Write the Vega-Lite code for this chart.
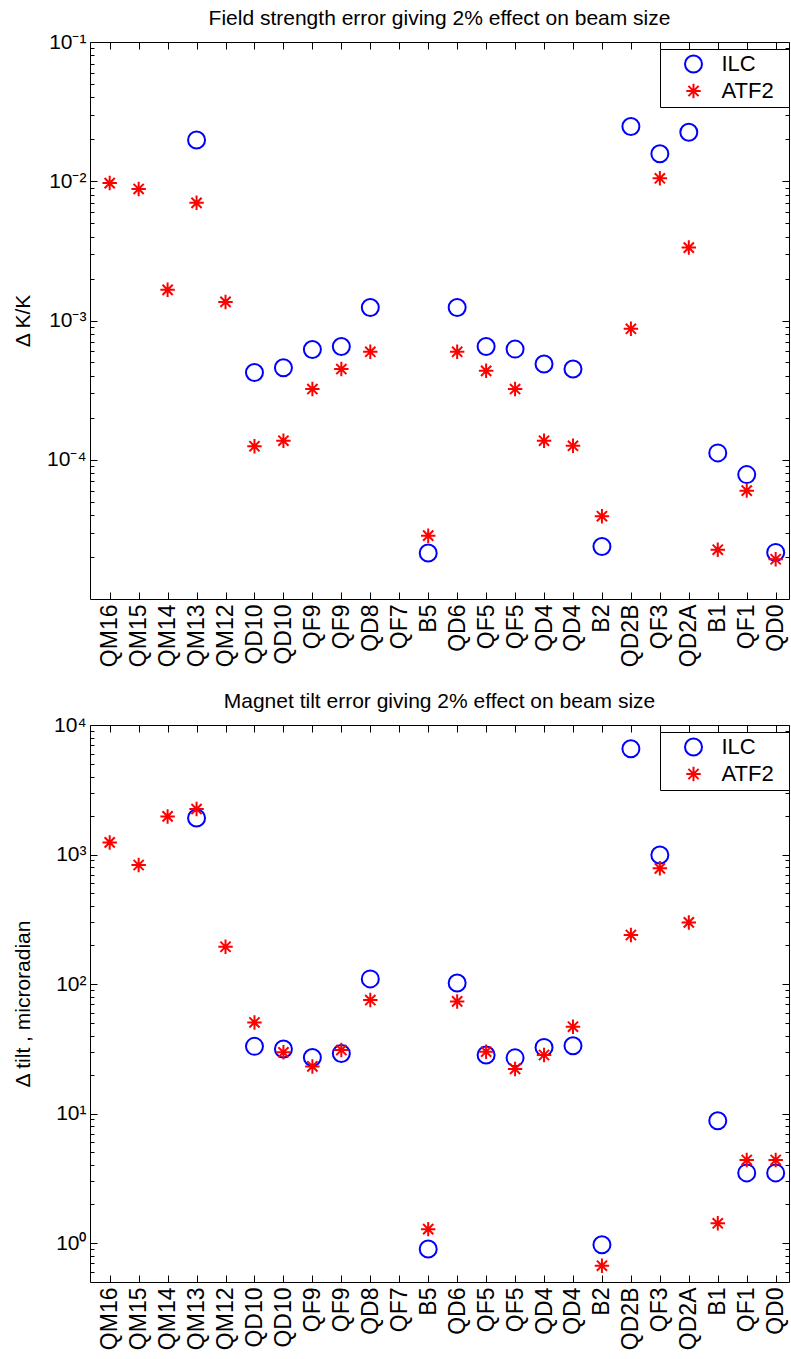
{
  "$schema": "https://vega.github.io/schema/vega-lite/v6.json",
  "padding": {"left": 12, "top": 7, "right": 0, "bottom": 0},
  "background": "white",
  "config": {
    "font": "Liberation Sans",
    "view": {"stroke": null},
    "axis": {"grid": false, "domainColor": "black", "tickColor": "black", "labelColor": "black", "titleColor": "black", "labelFont": "Liberation Sans", "titleFont": "Liberation Sans", "titleFontWeight": "normal", "domainWidth": 1, "tickWidth": 1, "labelOverlap": false, "labelFlush": false, "labelBound": false},
    "title": {"font": "Liberation Sans", "fontSize": 21, "fontWeight": "normal", "color": "black", "baseline": "alphabetic", "offset": 2.5},
    "legend": {"orient": "none", "legendX": 570, "legendY": 7, "strokeColor": "black", "fillColor": "white", "padding": 4, "rowPadding": 2, "symbolOffset": 18.5, "labelOffset": 17, "labelFontSize": 22, "labelFont": "Liberation Sans", "labelColor": "black", "symbolSize": 289, "symbolStrokeWidth": 2, "titleOrient": "right", "titlePadding": 9, "titleFontSize": 4, "titleColor": "transparent"}
  },
  "datasets": {
    "top": [
      {"i": 4, "s": "ILC", "v": 0.0198},
      {"i": 6, "s": "ILC", "v": 0.000423},
      {"i": 7, "s": "ILC", "v": 0.000458},
      {"i": 8, "s": "ILC", "v": 0.000619},
      {"i": 9, "s": "ILC", "v": 0.00065},
      {"i": 10, "s": "ILC", "v": 0.00124},
      {"i": 12, "s": "ILC", "v": 0.0000214},
      {"i": 13, "s": "ILC", "v": 0.00124},
      {"i": 14, "s": "ILC", "v": 0.00065},
      {"i": 15, "s": "ILC", "v": 0.000623},
      {"i": 16, "s": "ILC", "v": 0.000487},
      {"i": 17, "s": "ILC", "v": 0.000448},
      {"i": 18, "s": "ILC", "v": 0.0000238},
      {"i": 19, "s": "ILC", "v": 0.0247},
      {"i": 20, "s": "ILC", "v": 0.01575},
      {"i": 21, "s": "ILC", "v": 0.0225},
      {"i": 22, "s": "ILC", "v": 0.000112},
      {"i": 23, "s": "ILC", "v": 0.0000782},
      {"i": 24, "s": "ILC", "v": 0.0000216},
      {"i": 1, "s": "ATF2", "v": 0.0097},
      {"i": 2, "s": "ATF2", "v": 0.0088},
      {"i": 3, "s": "ATF2", "v": 0.00166},
      {"i": 4, "s": "ATF2", "v": 0.007},
      {"i": 5, "s": "ATF2", "v": 0.00136},
      {"i": 6, "s": "ATF2", "v": 0.000125},
      {"i": 7, "s": "ATF2", "v": 0.000137},
      {"i": 8, "s": "ATF2", "v": 0.000322},
      {"i": 9, "s": "ATF2", "v": 0.000448},
      {"i": 10, "s": "ATF2", "v": 0.000596},
      {"i": 12, "s": "ATF2", "v": 0.0000285},
      {"i": 13, "s": "ATF2", "v": 0.000596},
      {"i": 14, "s": "ATF2", "v": 0.000435},
      {"i": 15, "s": "ATF2", "v": 0.000322},
      {"i": 16, "s": "ATF2", "v": 0.000137},
      {"i": 17, "s": "ATF2", "v": 0.000126},
      {"i": 18, "s": "ATF2", "v": 0.0000393},
      {"i": 19, "s": "ATF2", "v": 0.000872},
      {"i": 20, "s": "ATF2", "v": 0.0105},
      {"i": 21, "s": "ATF2", "v": 0.00334},
      {"i": 22, "s": "ATF2", "v": 0.0000226},
      {"i": 23, "s": "ATF2", "v": 0.00006},
      {"i": 24, "s": "ATF2", "v": 0.0000193}
    ],
    "bot": [
      {"i": 4, "s": "ILC", "v": 1914},
      {"i": 6, "s": "ILC", "v": 33.0},
      {"i": 7, "s": "ILC", "v": 31.5},
      {"i": 8, "s": "ILC", "v": 27.1},
      {"i": 9, "s": "ILC", "v": 29.1},
      {"i": 10, "s": "ILC", "v": 109.5},
      {"i": 12, "s": "ILC", "v": 0.9},
      {"i": 13, "s": "ILC", "v": 101.9},
      {"i": 14, "s": "ILC", "v": 28.3},
      {"i": 15, "s": "ILC", "v": 26.9},
      {"i": 16, "s": "ILC", "v": 32.4},
      {"i": 17, "s": "ILC", "v": 33.4},
      {"i": 18, "s": "ILC", "v": 0.97},
      {"i": 19, "s": "ILC", "v": 6560},
      {"i": 20, "s": "ILC", "v": 991},
      {"i": 22, "s": "ILC", "v": 8.79},
      {"i": 23, "s": "ILC", "v": 3.48},
      {"i": 24, "s": "ILC", "v": 3.48},
      {"i": 1, "s": "ATF2", "v": 1240},
      {"i": 2, "s": "ATF2", "v": 830},
      {"i": 3, "s": "ATF2", "v": 1968},
      {"i": 4, "s": "ATF2", "v": 2244},
      {"i": 5, "s": "ATF2", "v": 194},
      {"i": 6, "s": "ATF2", "v": 50.5},
      {"i": 7, "s": "ATF2", "v": 29.7},
      {"i": 8, "s": "ATF2", "v": 23.1},
      {"i": 9, "s": "ATF2", "v": 30.9},
      {"i": 10, "s": "ATF2", "v": 75.2},
      {"i": 12, "s": "ATF2", "v": 1.28},
      {"i": 13, "s": "ATF2", "v": 73.4},
      {"i": 14, "s": "ATF2", "v": 30.0},
      {"i": 15, "s": "ATF2", "v": 22.1},
      {"i": 16, "s": "ATF2", "v": 28.3},
      {"i": 17, "s": "ATF2", "v": 46.8},
      {"i": 18, "s": "ATF2", "v": 0.668},
      {"i": 19, "s": "ATF2", "v": 239},
      {"i": 20, "s": "ATF2", "v": 782},
      {"i": 21, "s": "ATF2", "v": 299},
      {"i": 22, "s": "ATF2", "v": 1.42},
      {"i": 23, "s": "ATF2", "v": 4.38},
      {"i": 24, "s": "ATF2", "v": 4.38}
    ]
  },
  "spacing": 126,
  "bounds": "flush",
  "resolve": {"scale": {"color": "independent", "shape": "independent"}, "legend": {"color": "independent", "shape": "independent"}},
  "vconcat": [
    {
      "title": "Field strength error giving 2% effect on beam size",
      "width": 699,
      "height": 557,
      "data": {"name": "top"},
      "resolve": {"axis": {"x": "independent", "y": "independent"}},
      "layer": [
        {
          "mark": {"type": "point", "filled": false, "strokeWidth": 2, "size": 289, "opacity": 1},
          "encoding": {
            "x": {"field": "i", "type": "quantitative", "scale": {"domain": [0.32, 24.46], "nice": false, "zero": false},
              "axis": {"orient": "bottom", "values": [1,2,3,4,5,6,7,8,9,10,11,12,13,14,15,16,17,18,19,20,21,22,23,24],
                "labelExpr": "['QM16','QM15','QM14','QM13','QM12','QD10','QD10','QF9','QF9','QD8','QF7','B5','QD6','QF5','QF5','QD4','QD4','B2','QD2B','QF3','QD2A','B1','QF1','QD0'][datum.value-1]",
                "labelAngle": 270, "labelAlign": "right", "labelBaseline": "middle", "labelFontSize": 23, "labelPadding": 12, "tickSize": -7, "title": null}},
            "y": {"field": "v", "type": "quantitative", "scale": {"type": "log", "domain": [0.00001, 0.1], "nice": false},
              "axis": {"orient": "left", "values": [0.0001, 0.001, 0.01, 0.1],
                "labelExpr": "datum.value < 0.0005 ? '10⁻⁴' : datum.value < 0.005 ? '10⁻³' : datum.value < 0.05 ? '10⁻²' : '10⁻¹'",
                "labelFontSize": 21, "labelPadding": 11, "tickSize": -7, "title": "Δ K/K", "titleFontSize": 21, "titleX": -66.5, "titleBaseline": "middle"}},
            "color": {"field": "s", "type": "nominal", "scale": {"domain": ["ILC", "ATF2"], "range": ["#0000ff", "#ff0000"]},
              "legend": {"title": "."}},
            "shape": {"field": "s", "type": "nominal", "scale": {"domain": ["ILC", "ATF2"], "range": ["circle", "M0,-0.85L0,0.85M-0.85,0L0.85,0M-0.6,-0.6L0.6,0.6M-0.6,0.6L0.6,-0.6"]},
              "legend": {"title": "."}}
          }
        },
        {
          "mark": {"type": "point", "opacity": 0},
          "encoding": {
            "x": {"field": "i", "type": "quantitative", "axis": {"orient": "top", "values": [1,2,3,4,5,6,7,8,9,10,11,12,13,14,15,16,17,18,19,20,21,22,23,24], "labels": false, "tickSize": -7, "title": null}},
            "y": {"field": "v", "type": "quantitative", "axis": {"orient": "left", "values": [0.00002,0.00003,0.00004,0.00005,0.00006,0.00007,0.00008,0.00009,0.0002,0.0003,0.0004,0.0005,0.0006,0.0007,0.0008,0.0009,0.002,0.003,0.004,0.005,0.006,0.007,0.008,0.009,0.02,0.03,0.04,0.05,0.06,0.07,0.08,0.09], "labels": false, "tickSize": -4, "title": null, "domain": false}}
          }
        },
        {
          "mark": {"type": "point", "opacity": 0},
          "encoding": {
            "x": {"field": "i", "type": "quantitative", "axis": null},
            "y": {"field": "v", "type": "quantitative", "axis": {"orient": "right", "values": [0.0001, 0.001, 0.01, 0.1], "labels": false, "tickSize": -7, "title": null}}
          }
        },
        {
          "mark": {"type": "point", "opacity": 0},
          "encoding": {
            "x": {"field": "i", "type": "quantitative", "axis": null},
            "y": {"field": "v", "type": "quantitative", "axis": {"orient": "right", "values": [0.00002,0.00003,0.00004,0.00005,0.00006,0.00007,0.00008,0.00009,0.0002,0.0003,0.0004,0.0005,0.0006,0.0007,0.0008,0.0009,0.002,0.003,0.004,0.005,0.006,0.007,0.008,0.009,0.02,0.03,0.04,0.05,0.06,0.07,0.08,0.09], "labels": false, "tickSize": -4, "title": null, "domain": false}}
          }
        }
      ]
    },
    {
      "title": "Magnet tilt error giving 2% effect on beam size",
      "width": 699,
      "height": 557,
      "data": {"name": "bot"},
      "resolve": {"axis": {"x": "independent", "y": "independent"}},
      "layer": [
        {
          "mark": {"type": "point", "filled": false, "strokeWidth": 2, "size": 289, "opacity": 1},
          "encoding": {
            "x": {"field": "i", "type": "quantitative", "scale": {"domain": [0.32, 24.46], "nice": false, "zero": false},
              "axis": {"orient": "bottom", "values": [1,2,3,4,5,6,7,8,9,10,11,12,13,14,15,16,17,18,19,20,21,22,23,24],
                "labelExpr": "['QM16','QM15','QM14','QM13','QM12','QD10','QD10','QF9','QF9','QD8','QF7','B5','QD6','QF5','QF5','QD4','QD4','B2','QD2B','QF3','QD2A','B1','QF1','QD0'][datum.value-1]",
                "labelAngle": 270, "labelAlign": "right", "labelBaseline": "middle", "labelFontSize": 23, "labelPadding": 12, "tickSize": -7, "title": null}},
            "y": {"field": "v", "type": "quantitative", "scale": {"type": "log", "domain": [0.5, 10000], "nice": false},
              "axis": {"orient": "left", "values": [1, 10, 100, 1000, 10000],
                "labelExpr": "datum.value < 5 ? '10⁰' : datum.value < 50 ? '10¹' : datum.value < 500 ? '10²' : datum.value < 5000 ? '10³' : '10⁴'",
                "labelFontSize": 21, "labelPadding": 11, "tickSize": -7, "title": "Δ tilt , microradian", "titleFontSize": 21, "titleX": -66.5, "titleBaseline": "middle"}},
            "color": {"field": "s", "type": "nominal", "scale": {"domain": ["ILC", "ATF2"], "range": ["#0000ff", "#ff0000"]},
              "legend": {"title": "."}},
            "shape": {"field": "s", "type": "nominal", "scale": {"domain": ["ILC", "ATF2"], "range": ["circle", "M0,-0.85L0,0.85M-0.85,0L0.85,0M-0.6,-0.6L0.6,0.6M-0.6,0.6L0.6,-0.6"]},
              "legend": {"title": "."}}
          }
        },
        {
          "mark": {"type": "point", "opacity": 0},
          "encoding": {
            "x": {"field": "i", "type": "quantitative", "axis": {"orient": "top", "values": [1,2,3,4,5,6,7,8,9,10,11,12,13,14,15,16,17,18,19,20,21,22,23,24], "labels": false, "tickSize": -7, "title": null}},
            "y": {"field": "v", "type": "quantitative", "axis": {"orient": "left", "values": [0.6,0.7,0.8,0.9,2,3,4,5,6,7,8,9,20,30,40,50,60,70,80,90,200,300,400,500,600,700,800,900,2000,3000,4000,5000,6000,7000,8000,9000], "labels": false, "tickSize": -4, "title": null, "domain": false}}
          }
        },
        {
          "mark": {"type": "point", "opacity": 0},
          "encoding": {
            "x": {"field": "i", "type": "quantitative", "axis": null},
            "y": {"field": "v", "type": "quantitative", "axis": {"orient": "right", "values": [1, 10, 100, 1000, 10000], "labels": false, "tickSize": -7, "title": null}}
          }
        },
        {
          "mark": {"type": "point", "opacity": 0},
          "encoding": {
            "x": {"field": "i", "type": "quantitative", "axis": null},
            "y": {"field": "v", "type": "quantitative", "axis": {"orient": "right", "values": [0.6,0.7,0.8,0.9,2,3,4,5,6,7,8,9,20,30,40,50,60,70,80,90,200,300,400,500,600,700,800,900,2000,3000,4000,5000,6000,7000,8000,9000], "labels": false, "tickSize": -4, "title": null, "domain": false}}
          }
        }
      ]
    }
  ]
}
